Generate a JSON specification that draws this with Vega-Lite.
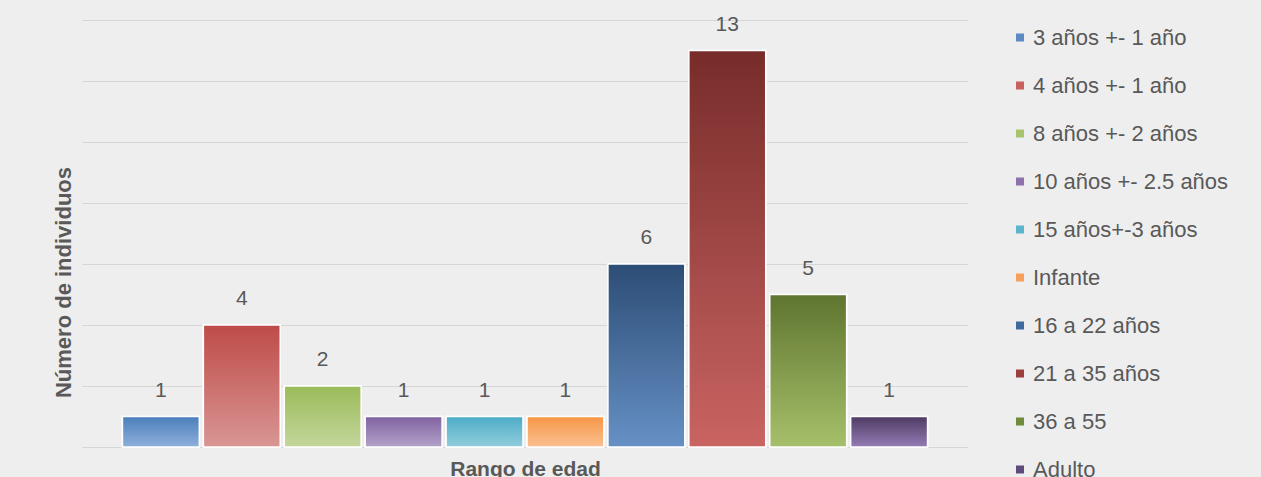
{
  "$schema": "https://vega.github.io/schema/vega-lite/v6.json",
  "autosize": {"type": "none"},
  "padding": {"left": 82, "top": 20, "right": 293, "bottom": 30},
  "width": 886,
  "height": 427,
  "background": "#eeeeee",
  "config": {
    "view": {"stroke": null},
    "font": "Liberation Sans"
  },
  "data": {
    "values": [
      {"rango": "3 años +- 1 año", "n": 1},
      {"rango": "4 años +- 1 año", "n": 4},
      {"rango": "8 años +- 2 años", "n": 2},
      {"rango": "10 años +- 2.5 años", "n": 1},
      {"rango": "15 años+-3 años", "n": 1},
      {"rango": "Infante", "n": 1},
      {"rango": "16 a 22 años", "n": 6},
      {"rango": "21 a 35 años", "n": 13},
      {"rango": "36 a 55", "n": 5},
      {"rango": "Adulto", "n": 1}
    ]
  },
  "encoding": {
    "x": {
      "field": "rango",
      "type": "nominal",
      "sort": null,
      "scale": {
        "domain": ["3 años +- 1 año", "4 años +- 1 año", "8 años +- 2 años", "10 años +- 2.5 años", "15 años+-3 años", "Infante", "16 a 22 años", "21 a 35 años", "36 a 55", "Adulto"],
        "paddingInner": 0.05,
        "paddingOuter": 0.5
      },
      "axis": {
        "title": "Rango de edad",
        "labels": false,
        "ticks": false,
        "domain": false,
        "titleFontSize": 21,
        "titleFontWeight": "bold",
        "titleColor": "#595959",
        "titleBaseline": "alphabetic",
        "titleY": 28
      }
    },
    "y": {
      "field": "n",
      "type": "quantitative",
      "scale": {"domain": [0, 14], "nice": false},
      "axis": {
        "title": "Número de individuos",
        "values": [0, 2, 4, 6, 8, 10, 12, 14],
        "labels": false,
        "ticks": false,
        "domain": false,
        "grid": true,
        "gridColor": "#d6d6d6",
        "gridWidth": 1,
        "titleFontSize": 22,
        "titleFontWeight": "bold",
        "titleColor": "#595959",
        "titleAngle": -90,
        "titleBaseline": "middle",
        "titleX": -19,
        "titleY": 262
      }
    }
  },
  "layer": [
    {
      "mark": {"type": "bar", "stroke": "white", "strokeWidth": 1.5},
      "encoding": {
        "color": {
          "field": "rango",
          "type": "nominal",
          "sort": null,
          "scale": {
            "domain": ["3 años +- 1 año", "4 años +- 1 año", "8 años +- 2 años", "10 años +- 2.5 años", "15 años+-3 años", "Infante", "16 a 22 años", "21 a 35 años", "36 a 55", "Adulto"],
            "range": ["#5b8ac4", "#c8605d", "#a8c46a", "#8c72ac", "#5cb5cc", "#f8a05a", "#3f6aa0", "#9b3e3c", "#6f8a3a", "#5d4a7a"]
          },
          "legend": {
            "title": null,
            "orient": "none",
            "legendX": 927,
            "legendY": 6.5,
            "padding": 0,
            "symbolType": "square",
            "symbolSize": 64,
            "symbolStrokeWidth": 0,
            "symbolOpacity": 1,
            "labelFontSize": 22,
            "labelColor": "#595959",
            "labelOffset": 2,
            "rowPadding": 26,
            "labelLimit": 300
          }
        }
      }
    },
    {
      "transform": [{"filter": {"field": "rango", "equal": "3 años +- 1 año"}}],
      "mark": {"type": "bar", "stroke": "white", "strokeWidth": 1.5, "color": {"gradient": "linear", "x1": 0, "y1": 0, "x2": 0, "y2": 1, "stops": [{"offset": 0, "color": "#4a7ebb"}, {"offset": 1, "color": "#8fb0da"}]}},
      "encoding": {}
    },
    {
      "transform": [{"filter": {"field": "rango", "equal": "4 años +- 1 año"}}],
      "mark": {"type": "bar", "stroke": "white", "strokeWidth": 1.5, "color": {"gradient": "linear", "x1": 0, "y1": 0, "x2": 0, "y2": 1, "stops": [{"offset": 0, "color": "#be4b48"}, {"offset": 1, "color": "#d99694"}]}},
      "encoding": {}
    },
    {
      "transform": [{"filter": {"field": "rango", "equal": "8 años +- 2 años"}}],
      "mark": {"type": "bar", "stroke": "white", "strokeWidth": 1.5, "color": {"gradient": "linear", "x1": 0, "y1": 0, "x2": 0, "y2": 1, "stops": [{"offset": 0, "color": "#9bbb59"}, {"offset": 1, "color": "#c3d69b"}]}},
      "encoding": {}
    },
    {
      "transform": [{"filter": {"field": "rango", "equal": "10 años +- 2.5 años"}}],
      "mark": {"type": "bar", "stroke": "white", "strokeWidth": 1.5, "color": {"gradient": "linear", "x1": 0, "y1": 0, "x2": 0, "y2": 1, "stops": [{"offset": 0, "color": "#7f62a1"}, {"offset": 1, "color": "#b3a2c8"}]}},
      "encoding": {}
    },
    {
      "transform": [{"filter": {"field": "rango", "equal": "15 años+-3 años"}}],
      "mark": {"type": "bar", "stroke": "white", "strokeWidth": 1.5, "color": {"gradient": "linear", "x1": 0, "y1": 0, "x2": 0, "y2": 1, "stops": [{"offset": 0, "color": "#4bacc6"}, {"offset": 1, "color": "#93cddd"}]}},
      "encoding": {}
    },
    {
      "transform": [{"filter": {"field": "rango", "equal": "Infante"}}],
      "mark": {"type": "bar", "stroke": "white", "strokeWidth": 1.5, "color": {"gradient": "linear", "x1": 0, "y1": 0, "x2": 0, "y2": 1, "stops": [{"offset": 0, "color": "#f79646"}, {"offset": 1, "color": "#fac090"}]}},
      "encoding": {}
    },
    {
      "transform": [{"filter": {"field": "rango", "equal": "16 a 22 años"}}],
      "mark": {"type": "bar", "stroke": "white", "strokeWidth": 1.5, "color": {"gradient": "linear", "x1": 0, "y1": 0, "x2": 0, "y2": 1, "stops": [{"offset": 0, "color": "#2c4d75"}, {"offset": 1, "color": "#6690c5"}]}},
      "encoding": {}
    },
    {
      "transform": [{"filter": {"field": "rango", "equal": "21 a 35 años"}}],
      "mark": {"type": "bar", "stroke": "white", "strokeWidth": 1.5, "color": {"gradient": "linear", "x1": 0, "y1": 0, "x2": 0, "y2": 1, "stops": [{"offset": 0, "color": "#772c2a"}, {"offset": 1, "color": "#c96462"}]}},
      "encoding": {}
    },
    {
      "transform": [{"filter": {"field": "rango", "equal": "36 a 55"}}],
      "mark": {"type": "bar", "stroke": "white", "strokeWidth": 1.5, "color": {"gradient": "linear", "x1": 0, "y1": 0, "x2": 0, "y2": 1, "stops": [{"offset": 0, "color": "#5f7530"}, {"offset": 1, "color": "#a6c06a"}]}},
      "encoding": {}
    },
    {
      "transform": [{"filter": {"field": "rango", "equal": "Adulto"}}],
      "mark": {"type": "bar", "stroke": "white", "strokeWidth": 1.5, "color": {"gradient": "linear", "x1": 0, "y1": 0, "x2": 0, "y2": 1, "stops": [{"offset": 0, "color": "#4d3b62"}, {"offset": 1, "color": "#957cb6"}]}},
      "encoding": {}
    },
    {
      "mark": {"type": "text", "dy": -20, "baseline": "alphabetic", "fontSize": 21, "color": "#595959"},
      "encoding": {
        "text": {"field": "n", "type": "quantitative"}
      }
    }
  ]
}
